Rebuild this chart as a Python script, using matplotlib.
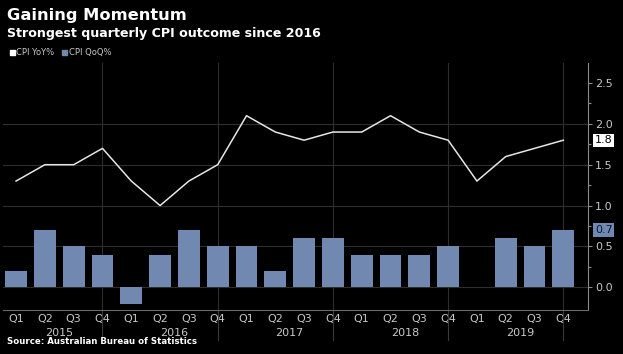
import numpy as np
import matplotlib.pyplot as plt
from matplotlib.transforms import blended_transform_factory

# 분기 / 연도
quarters = ['Q1', 'Q2', 'Q3', 'Q4'] * 5
years = ['2015', '2016', '2017', '2018', '2019']

# CPI 값 (%)
cpi_yoy = [1.3, 1.5, 1.5, 1.7, 1.3, 1.0, 1.3, 1.5, 2.1, 1.9,
           1.8, 1.9, 1.9, 2.1, 1.9, 1.8, 1.3, 1.6, 1.7, 1.8]
cpi_qoq = [0.2, 0.7, 0.5, 0.4, -0.2, 0.4, 0.7, 0.5, 0.5, 0.2,
           0.6, 0.6, 0.4, 0.4, 0.4, 0.5, 0.0, 0.6, 0.5, 0.7]

bg = '#000000'
bar_color = '#7189b1'
line_color = '#e6e6e6'
grid_color = '#2e2e2e'
text_color = '#c8c8c8'

fig = plt.figure(figsize=(6.23, 3.54), dpi=100, facecolor=bg)
ax = fig.add_axes([0.005, 0.124, 0.939, 0.698], facecolor=bg)

x = np.arange(len(cpi_yoy))
ax.bar(x, cpi_qoq, width=0.76, color=bar_color, zorder=2)
ax.plot(x, cpi_yoy, color=line_color, lw=1.1, zorder=3)

ax.set_xlim(-0.45, 19.86)
ax.set_ylim(-0.28, 2.745)

# 축 / 눈금
ax.yaxis.tick_right()
ax.set_yticks(np.arange(0, 2.51, 0.5))
ax.set_yticklabels([f'{v:.1f}' for v in np.arange(0, 2.51, 0.5)])
ax.set_yticks(np.arange(0.25, 2.6, 0.5), minor=True)
ax.tick_params(axis='y', which='both', colors='#8a8a8a', labelcolor=text_color,
               labelsize=8, direction='out', length=3, width=0.8, pad=2)
ax.tick_params(axis='y', which='minor', length=2)
ax.set_xticks(x)
ax.set_xticklabels(quarters)
ax.tick_params(axis='x', colors=text_color, labelsize=8, length=0, pad=3)

for side in ['left', 'top']:
    ax.spines[side].set_visible(False)
ax.spines['right'].set_color('#8a8a8a')
ax.spines['bottom'].set_color('#6a6a6a')

# 그리드
for v in [0.0, 0.5, 1.0, 1.5, 2.0]:
    ax.axhline(v, color=grid_color, lw=0.8, zorder=1)
for xv in [3, 7, 11, 15, 19]:
    ax.axvline(xv, color=grid_color, lw=0.8, zorder=1)

# 연도 라벨 + 구분선
trans = blended_transform_factory(ax.transData, ax.transAxes)
for i, yr in enumerate(years):
    ax.text(1.5 + 4 * i, -0.093, yr, transform=trans, ha='center', va='center',
            color=text_color, fontsize=8)
    ax.plot([3 + 4 * i] * 2, [0, -0.12], transform=trans, color='#3a3a3a',
            lw=0.8, clip_on=False)

# 최신값 라벨
ax.annotate('1.8', xy=(1.0, cpi_yoy[-1]), xycoords=('axes fraction', 'data'),
            xytext=(5, 0), textcoords='offset points', va='center', ha='left',
            fontsize=8, color='#000000',
            bbox=dict(boxstyle='square,pad=0.15', fc='#ffffff', ec='none'))
ax.annotate('0.7', xy=(1.0, cpi_qoq[-1]), xycoords=('axes fraction', 'data'),
            xytext=(5, 0), textcoords='offset points', va='center', ha='left',
            fontsize=8, color='#0a1a33',
            bbox=dict(boxstyle='square,pad=0.15', fc=bar_color, ec='none'))

# 제목 / 범례 / 출처
fig.text(0.011, 0.955, 'Gaining Momentum', color='white', fontsize=11.7,
         fontweight='bold', va='center', ha='left')
fig.text(0.011, 0.905, 'Strongest quarterly CPI outcome since 2016', color='white',
         fontsize=9.1, fontweight='bold', va='center', ha='left')
fig.patches.append(plt.Rectangle((0.016, 0.845), 0.008, 0.014, color='white',
                                 transform=fig.transFigure, figure=fig))
fig.text(0.026, 0.852, 'CPI YoY%', color=text_color, fontsize=6, va='center')
fig.patches.append(plt.Rectangle((0.1, 0.845), 0.008, 0.014, color=bar_color,
                                 transform=fig.transFigure, figure=fig))
fig.text(0.11, 0.852, 'CPI QoQ%', color=text_color, fontsize=6, va='center')
fig.text(0.011, 0.035, 'Source: Australian Bureau of Statistics', color='white',
         fontsize=6.2, fontweight='bold', va='center', ha='left')

fig.savefig('out.png', dpi=100, facecolor=bg)
